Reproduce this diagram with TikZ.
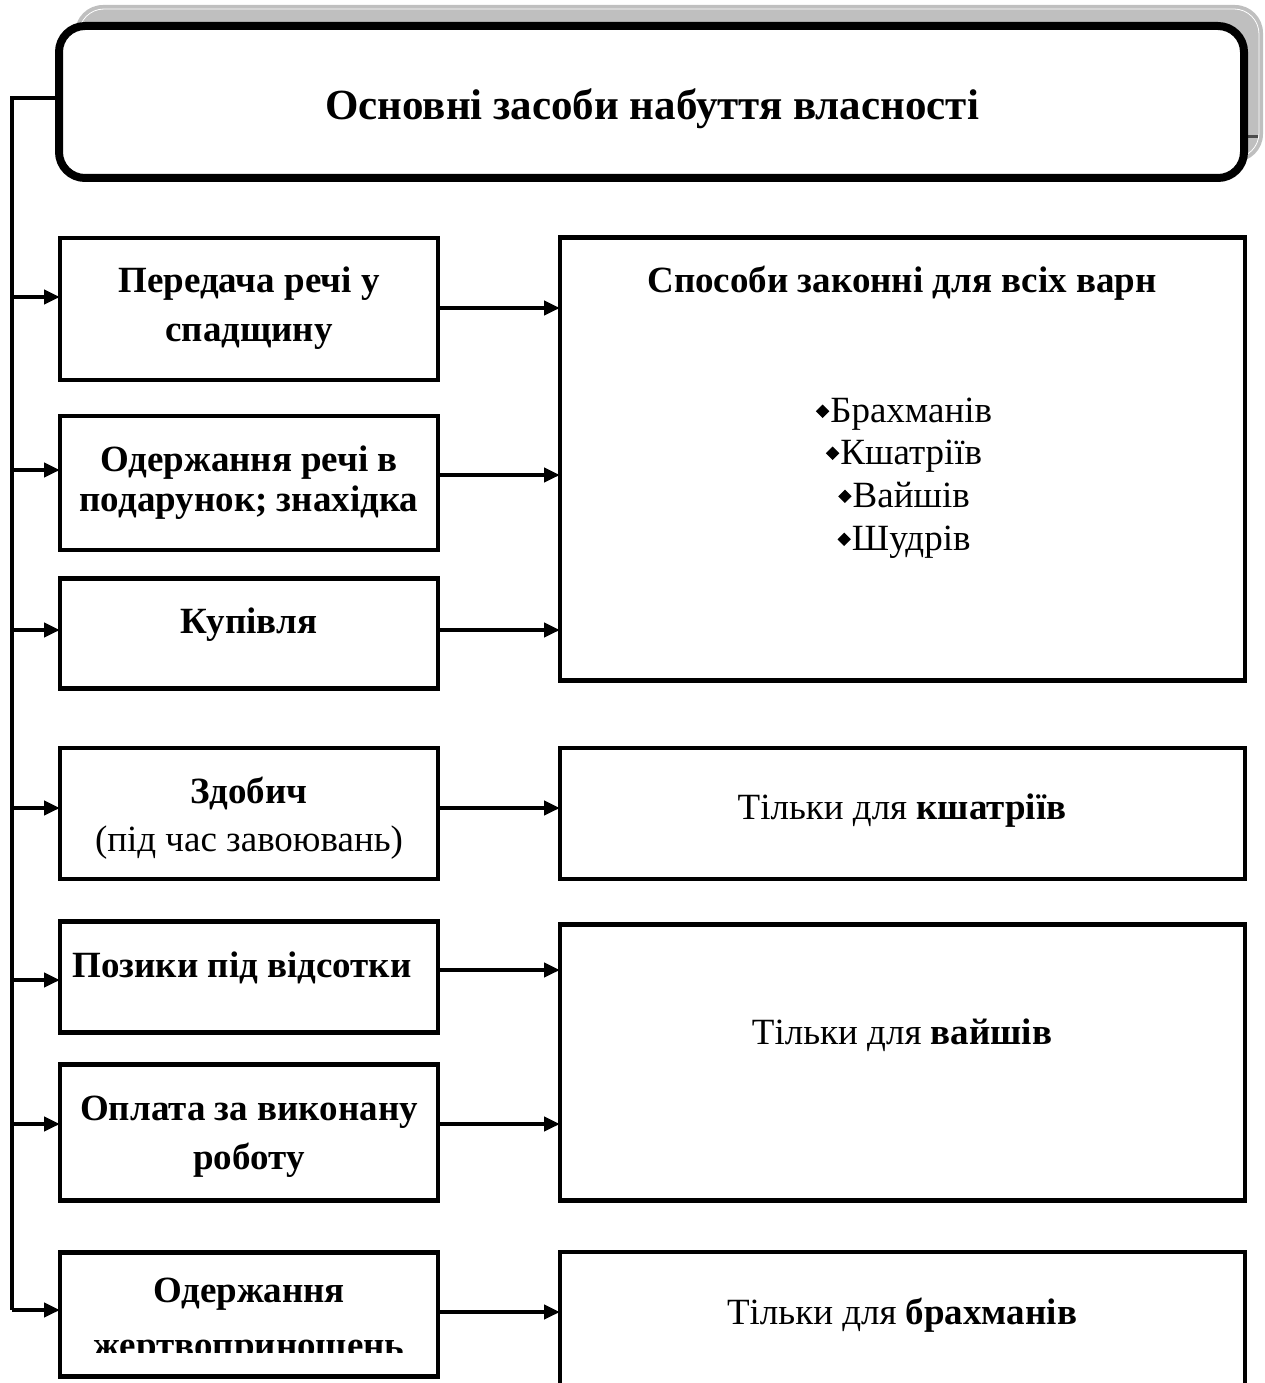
\documentclass[tikz,border=0pt]{standalone}
\usepackage{fontspec}
\setmainfont{Liberation Serif}
\usetikzlibrary{arrows.meta}
\tikzset{
  box/.style={draw, line width=4.5pt, inner sep=0pt, outer sep=0pt, rectangle},
  conn/.style={line width=4.5pt, -{Triangle[length=16pt,width=14pt]}},
  plain/.style={line width=4.5pt},
  bt/.style={font=\fontsize{37}{44}\bfseries, anchor=base, inner sep=0pt},
  rt/.style={font=\fontsize{37}{44}\selectfont, anchor=base, inner sep=0pt},
}
\newcommand{\dia}{\raisebox{4pt}{\rotatebox{45}{\rule{9.5pt}{9.5pt}}}\hspace{1pt}}
\begin{document}
\begin{tikzpicture}[x=1pt,y=-1pt]
\useasboundingbox (0,0) rectangle (1265,1383);
\clip (0,0) rectangle (1265,1383);
% title shadow
\fill[gray!50, rounded corners=28pt] (75,5) rectangle (1263,162);
\draw[white, line width=0.8pt, rounded corners=25pt] (79,9) rectangle (1259,158);
\draw[gray!60!black, line width=3pt] (1247,137) -- (1258,137);
% title
\node[draw, fill=white, line width=8pt, rounded corners=26pt, minimum width=1185pt, minimum height=152pt, inner sep=0pt, outer sep=0pt] (top) at (651.5,102) {};
\node[font=\fontsize{43}{50}\bfseries, anchor=base, inner sep=0pt] (ttl) at (652,120) {Основні засоби набуття власності};
% left boxes
\node[box, minimum width=378pt, minimum height=142pt] (l1) at (249,309) {};
\node[box, minimum width=378pt, minimum height=134pt] (l2) at (249,483) {};
\node[box, minimum width=378pt, minimum height=110pt] (l3) at (249,633.5) {};
\node[box, minimum width=378pt, minimum height=131pt] (l4) at (249,813.5) {};
\node[box, minimum width=378pt, minimum height=111pt] (l5) at (249,977) {};
\node[box, minimum width=378pt, minimum height=136pt] (l6) at (249,1132.5) {};
\node[box, minimum width=378pt, minimum height=124pt] (l7) at (249,1314.5) {};
% right boxes
\node[box, minimum width=685pt, minimum height=443pt] (r1) at (902.5,459) {};
\node[box, minimum width=685pt, minimum height=131pt] (r2) at (902.5,813.5) {};
\node[box, minimum width=685pt, minimum height=276pt] (r3) at (902.5,1062.5) {};
\node[box, minimum width=685pt, minimum height=170pt] (r4) at (902.5,1337) {};
% left texts
\node[bt] (t1a) at (249,292) {Передача речі у};
\node[bt] (t1b) at (249,341) {спадщину};
\node[bt] (t2a) at (249,471) {Одержання речі в};
\node[bt] (t2b) at (249,511) {подарунок; знахідка};
\node[bt] (t3) at (249,633) {Купівля};
\node[bt] (t4a) at (249,803) {Здобич};
\node[rt] (t4b) at (249,851) {(під час завоювань)};
\node[bt] (t5) at (242,977) {Позики під відсотки};
\node[bt] (t6a) at (249,1120) {Оплата за виконану};
\node[bt] (t6b) at (249,1169) {роботу};
\node[bt] (t7a) at (249,1302) {Одержання};
\begin{scope}
\clip (60,1260) rectangle (438,1352);
\node[bt] (t7b) at (249,1357) {жертвоприношень};
\end{scope}
% right texts
\node[bt] (u1) at (902,292) {Способи законні для всіх варн};
\node[rt] (b1) at (904,422) {\dia Брахманів};
\node[rt] (b2) at (904,464) {\dia Кшатріїв};
\node[rt] (b3) at (904,507) {\dia Вайшів};
\node[rt] (b4) at (904,550) {\dia Шудрів};
\node[rt] (u2) at (902,819) {Тільки для \textbf{кшатріїв}};
\node[rt] (u3) at (902,1044) {Тільки для \textbf{вайшів}};
\node[rt] (u4) at (902,1324) {Тільки для \textbf{брахманів}};
% spine
\coordinate (sp0) at (12,98);
\coordinate (sp1) at (12,1310);
\draw[plain] (top.west |- sp0) -- (sp0) -- (sp1);
% left arrows
\foreach \n/\yy in {l1/297,l2/470,l3/630,l4/808,l5/980,l6/1124,l7/1310}{
  \draw[conn] (12,\yy) -- (\n.west |- 0,\yy);
}
% right arrows
\draw[conn] (l1.east |- 0,308) -- (r1.west |- 0,308);
\draw[conn] (l2.east |- 0,475) -- (r1.west |- 0,475);
\draw[conn] (l3.east |- 0,630) -- (r1.west |- 0,630);
\draw[conn] (l4.east |- 0,808) -- (r2.west |- 0,808);
\draw[conn] (l5.east |- 0,970) -- (r3.west |- 0,970);
\draw[conn] (l6.east |- 0,1124) -- (r3.west |- 0,1124);
\draw[conn] (l7.east |- 0,1312) -- (r4.west |- 0,1312);
\end{tikzpicture}
\end{document}
